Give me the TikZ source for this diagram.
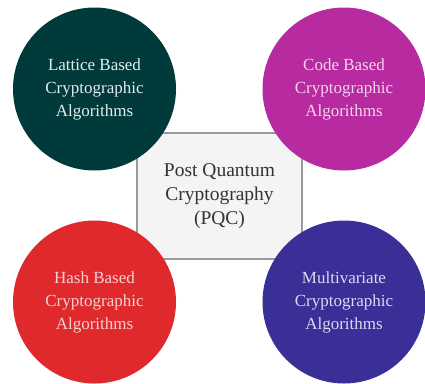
\documentclass[tikz,border=0pt]{standalone}
\usepackage{fontspec}
\setmainfont{Liberation Serif}
\definecolor{latticeC}{HTML}{013A3A}
\definecolor{codeC}{HTML}{B72AA0}
\definecolor{hashC}{HTML}{E0292D}
\definecolor{multiC}{HTML}{3A2E97}
\definecolor{latticeT}{HTML}{E4ECEC}
\definecolor{codeT}{HTML}{F4D4EE}
\definecolor{hashT}{HTML}{F8D0D0}
\definecolor{multiT}{HTML}{DCDAF2}
\definecolor{boxfill}{HTML}{F4F4F4}
\definecolor{boxline}{HTML}{9A9A9A}
\definecolor{centretext}{HTML}{333333}
\begin{document}
\begin{tikzpicture}[x=1pt,y=-1pt,
  family/.style={circle,minimum size=163pt,inner sep=0pt,align=center,
    font=\fontsize{17}{23}\selectfont},
  hub/.style={draw=boxline,fill=boxfill,line width=1.1pt,minimum width=165pt,
    minimum height=126pt,inner sep=0pt,align=center,text=centretext,
    font=\fontsize{19.5}{24}\selectfont}]
\useasboundingbox (0,0) rectangle (425,383);
% central box first, so the circles overlap its corners
\node[hub] (pqc) at (219.5,196) {Post Quantum\\Cryptography\\(PQC)};
\node[family,fill=latticeC,text=latticeT] (lattice) at (94.5,89)
  {Lattice Based\\Cryptographic\\Algorithms};
\node[family,fill=codeC,text=codeT] (code) at (344,89)
  {Code Based\\Cryptographic\\Algorithms};
\node[family,fill=hashC,text=hashT] (hash) at (94.5,302)
  {Hash Based\\Cryptographic\\Algorithms};
\node[family,fill=multiC,text=multiT] (multi) at (344,302)
  {Multivariate\\Cryptographic\\Algorithms};
\end{tikzpicture}
\end{document}
